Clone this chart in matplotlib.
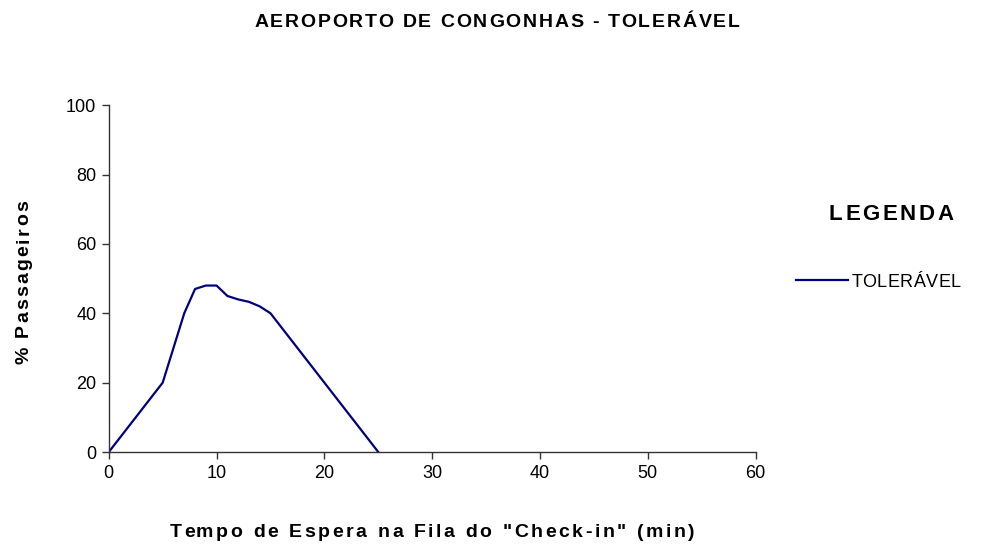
import matplotlib
matplotlib.use("Agg")
import matplotlib.pyplot as plt
from matplotlib.font_manager import FontProperties

plt.rcParams["font.family"] = ["Liberation Sans", "DejaVu Sans"]

# tempo de espera (min) x % passageiros
tempo = [0, 1, 2, 3, 4, 5, 6, 7, 8, 9, 10, 11, 12, 13, 14, 15,
         16, 17, 18, 19, 20, 21, 22, 23, 24, 25]
toleravel = [0, 4, 8, 12, 16, 20, 30, 40, 47, 48, 48, 45, 44, 43.3, 42, 40,
             36, 32, 28, 24, 20, 16, 12, 8, 4, 0]
x_ticks = [0, 10, 20, 30, 40, 50, 60]
y_ticks = [0, 20, 40, 60, 80, 100]


def tracked(fig, x, y, s, size, weight="bold", track=3.0, vertical=False):
    """texto centrado em (x, y) [fração da figura] com espaçamento extra entre letras (px)"""
    r = fig.canvas.get_renderer()
    fp = FontProperties(family=["Liberation Sans"], size=size, weight=weight)
    wI = r.get_text_width_height_descent("I", fp, ismath=False)[0]
    adv = lambda t: r.get_text_width_height_descent(t + "I", fp, ismath=False)[0] - wI if t else 0.0
    offs = [adv(s[:i]) + i * track for i in range(len(s))]
    total = offs[-1] + r.get_text_width_height_descent(s[-1], fp, ismath=False)[0]
    W, H = fig.bbox.width, fig.bbox.height
    for ch, o in zip(s, offs):
        if ch == " ":
            continue
        if vertical:
            fig.text(x, y + (o - total / 2) / H, ch, rotation=90, ha="center", va="bottom",
                     fontproperties=fp)
        else:
            fig.text(x + (o - total / 2) / W, y, ch, ha="left", va="center_baseline",
                     fontproperties=fp)


fig = plt.figure(figsize=(9.89, 5.45), dpi=100)
ax = fig.add_axes([0.110, 0.1706, 0.654, 0.6364])
ax.plot(tempo, toleravel, color="#000080", lw=1.6, solid_joinstyle="round")

ax.set_xlim(0, 60); ax.set_ylim(0, 100)
ax.set_xticks(x_ticks); ax.set_yticks(y_ticks)
for s in ("top", "right"):
    ax.spines[s].set_visible(False)
for s in ("left", "bottom"):
    ax.spines[s].set_color("#333333"); ax.spines[s].set_linewidth(1.0)
ax.tick_params(length=5, width=1.0, color="#333333", labelsize=13, pad=4)

tracked(fig, 0.5025, 0.963, "AEROPORTO DE CONGONHAS - TOLERÁVEL", 14, track=1.8)
tracked(fig, 0.437, 0.027, 'Tempo de Espera na Fila do "Check-in" (min)', 14, track=2.6)
tracked(fig, 0.024, 0.482, "% Passageiros", 14, track=2.2, vertical=True)

# legenda
tracked(fig, 0.901, 0.611, "LEGENDA", 16, track=2.6)
fig.add_artist(plt.Line2D([0.805, 0.857], [0.486, 0.486], color="#000080", lw=1.6))
tracked(fig, 0.916, 0.486, "TOLERÁVEL", 13, weight="normal", track=0.5)

fig.savefig("out.png", dpi=100)
